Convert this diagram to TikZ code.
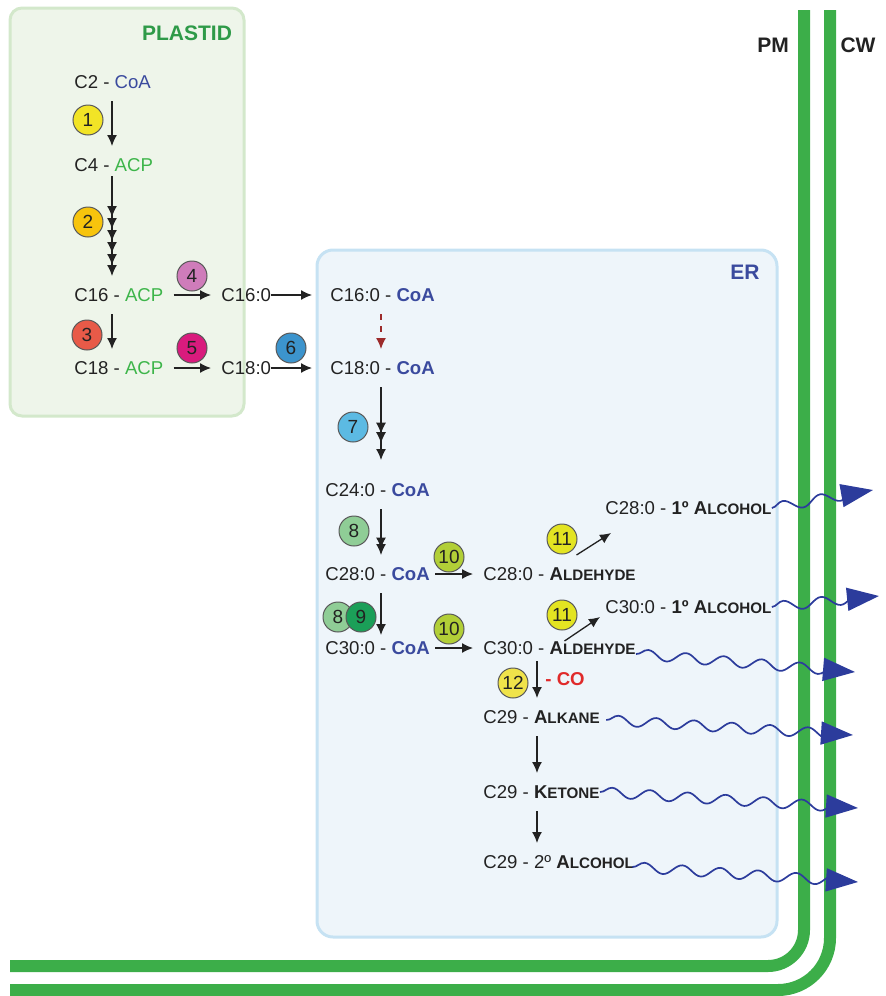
\documentclass[tikz,border=0pt]{standalone}
\usepackage{fontspec}
\setmainfont{Liberation Sans}
\usetikzlibrary{arrows.meta,decorations.pathmorphing,decorations.markings}
\definecolor{ink}{HTML}{222222}
\definecolor{coablue}{HTML}{3A4A9E}
\definecolor{acpgreen}{HTML}{3DB54A}
\definecolor{plastgreen}{HTML}{2E9A48}
\definecolor{plastfill}{HTML}{EEF5EA}
\definecolor{plastedge}{HTML}{D3E8CB}
\definecolor{erfill}{HTML}{EEF5FA}
\definecolor{eredge}{HTML}{C6E2F3}
\definecolor{memgreen}{HTML}{3CAE49}
\definecolor{waveblue}{HTML}{2C3C9C}
\definecolor{dashred}{HTML}{9C2B2B}
\definecolor{cored}{HTML}{E02A2A}
\definecolor{enyellow}{HTML}{F2E426}
\definecolor{enorange}{HTML}{F7C40D}
\definecolor{enred}{HTML}{E85A48}
\definecolor{enmauve}{HTML}{CF7CBA}
\definecolor{enmagenta}{HTML}{D91B7D}
\definecolor{enblue}{HTML}{3C94CD}
\definecolor{ensky}{HTML}{5CBAE3}
\definecolor{enmint}{HTML}{8FCD96}
\definecolor{enjade}{HTML}{1B9F58}
\definecolor{enlime}{HTML}{B2CF37}
\definecolor{enlemon}{HTML}{E3E422}
\definecolor{enpale}{HTML}{F0E34A}
\newcommand\smc[2]{\textbf{#1{\fontsize{7.6}{9}\selectfont#2}}}
\newcommand\coa{\textcolor{coablue}{\textbf{CoA}}}
\begin{document}
\begin{tikzpicture}[x=0.5pt,y=-0.5pt,
  met/.style={anchor=west,inner xsep=5pt,inner ysep=6pt,text height=6.6pt,text depth=0pt,text=ink,font=\fontsize{9.3}{11}\selectfont},
  enz/.style={circle,draw=ink!75,line width=0.5pt,minimum size=15pt,inner sep=0pt,text=ink,font=\fontsize{9.5}{11}\selectfont},
  title/.style={font=\fontsize{10.5}{12}\bfseries,inner sep=0pt},
  arr/.style={draw=ink,line width=0.65pt,-{Latex[length=5.5pt,width=5pt]}},
  midhead/.style={postaction={decorate,decoration={markings,mark=at position #1 with {\arrow{Latex[length=5.5pt,width=5pt]}}}}},
  mem/.style={draw=memgreen,line width=6pt},
  wave/.style={draw=waveblue,line width=0.85pt,decorate,decoration={snake,segment length=19pt,amplitude=2.5pt,post length=3pt},-{Triangle[length=16pt,width=11.5pt]}}]
\useasboundingbox (0,0) rectangle (886,996);
\draw[draw=plastedge,fill=plastfill,line width=1.5pt,rounded corners=6pt] (10,8) rectangle (244,416);
\draw[draw=eredge,fill=erfill,line width=1.5pt,rounded corners=8pt] (317,250) rectangle (777,937);
\draw[mem,rounded corners=18pt] (804,10) -- (804,966) -- (10,966);
\draw[mem,rounded corners=26pt] (830,10) -- (830,990) -- (10,990);
\node[title,text=plastgreen] (plastid) at (187,33) {PLASTID};
\node[title,text=coablue] (er) at (745,272) {ER};
\node[title,text=ink] (pm) at (773,45) {PM};
\node[title,text=ink] (cw) at (858,45) {CW};
\coordinate (pcol) at (112,0);
\coordinate (ecol) at (381,0);
\coordinate (kcol) at (537,0);
\node[met] (c2) at (64,82) {C2 - \textcolor{coablue}{CoA}};
\node[met] (c4) at (64,165) {C4 - \textcolor{acpgreen}{ACP}};
\node[met] (c16a) at (64,295) {C16 - \textcolor{acpgreen}{ACP}};
\node[met] (c18a) at (64,368) {C18 - \textcolor{acpgreen}{ACP}};
\node[met] (fa16) at (211,295) {C16:0};
\node[met] (fa18) at (211,368) {C18:0};
\node[met] (er16) at (320,295) {C16:0 - \coa};
\node[met] (er18) at (320,368) {C18:0 - \coa};
\node[met] (er24) at (315,490) {C24:0 - \coa};
\node[met] (er28) at (315,574) {C28:0 - \coa};
\node[met] (er30) at (315,648) {C30:0 - \coa};
\node[met] (ald28) at (473,574) {C28:0 - \smc{A}{LDEHYDE}};
\node[met] (ald30) at (473,648) {C30:0 - \smc{A}{LDEHYDE}};
\node[met] (alc28) at (595,508) {C28:0 - \textbf{1º} \smc{A}{LCOHOL}};
\node[met] (alc30) at (595,607) {C30:0 - \textbf{1º} \smc{A}{LCOHOL}};
\node[met] (alk) at (473,717) {C29 - \smc{A}{LKANE}};
\node[met] (ket) at (473,792) {C29 - \smc{K}{ETONE}};
\node[met] (alc2) at (473,862) {C29 - 2º \smc{A}{LCOHOL}};
\node[met,text=cored,font=\fontsize{9.3}{11}\bfseries] (co) at (535,679) {- CO};
\node[enz,fill=enyellow] (e1) at (88,120) {1};
\node[enz,fill=enorange] (e2) at (88,222) {2};
\node[enz,fill=enred] (e3) at (87,335) {3};
\node[enz,fill=enmauve] (e4) at (192,276) {4};
\node[enz,fill=enmagenta] (e5) at (192,348) {5};
\node[enz,fill=enblue] (e6) at (291,348) {6};
\node[enz,fill=ensky] (e7) at (353,427) {7};
\node[enz,fill=enmint] (e8) at (354,531) {8};
\node[enz,fill=enmint] (e8b) at (338,617) {8};
\node[enz,fill=enjade] (e9) at (361,617) {9};
\node[enz,fill=enlime] (e10) at (449,557) {10};
\node[enz,fill=enlime] (e10b) at (449,629) {10};
\node[enz,fill=enlemon] (e11) at (562,539) {11};
\node[enz,fill=enlemon] (e11b) at (562,615) {11};
\node[enz,fill=enpale] (e12) at (513,683) {12};
\draw[arr] (c2.south -| pcol) -- (c4.north -| pcol);
\draw[arr,midhead=0.41,midhead=0.53,midhead=0.65,midhead=0.77,midhead=0.89] ([yshift=4pt]c4.south -| pcol) -- (c16a.north -| pcol);
\draw[arr] (c16a.south -| pcol) -- (c18a.north -| pcol);
\draw[arr] (c16a.east) -- (fa16.west);
\draw[arr] (c18a.east) -- (fa18.west);
\draw[arr] ([xshift=-5pt]fa16.east) -- ([xshift=-4pt]er16.west);
\draw[arr] ([xshift=-5pt]fa18.east) -- ([xshift=-4pt]er18.west);
\draw[arr,draw=dashred,dashed] (er16.south -| ecol) -- (er18.north -| ecol);
\draw[arr,midhead=0.64,midhead=0.77] (er18.south -| ecol) -- ([yshift=5.5pt]er24.north -| ecol);
\draw[arr,midhead=0.86] (er24.south -| ecol) -- (er28.north -| ecol);
\draw[arr] (er28.south -| ecol) -- ([yshift=-3pt]er30.north -| ecol);
\draw[arr] ([xshift=-2.5pt]er28.east) -- (ald28.west);
\draw[arr] ([xshift=-2.5pt]er30.east) -- (ald30.west);
\draw[arr] ([xshift=8.5pt]ald28.north) -- ([xshift=8pt,yshift=-3pt]alc28.south west);
\draw[arr] ([xshift=2.5pt,yshift=-6pt]ald30.north) -- ([xshift=2.5pt,yshift=4.5pt]alc30.south west);
\draw[arr] ([yshift=3pt]ald30.south -| kcol) -- (alk.north -| kcol);
\draw[arr] (alk.south -| kcol) -- (ket.north -| kcol);
\draw[arr] (ket.south -| kcol) -- (alc2.north -| kcol);
\coordinate (w1) at (873,490);
\coordinate (w2) at (879,596);
\coordinate (w3) at (855,672);
\coordinate (w4) at (853,735);
\coordinate (w5) at (858,808);
\coordinate (w6) at (858,882);
\draw[wave] ([xshift=-5pt]alc28.east) -- (w1);
\draw[wave] ([xshift=-5pt]alc30.east) -- (w2);
\draw[wave] ([xshift=-5pt,yshift=-3pt]ald30.east) -- (w3);
\draw[wave] ([xshift=-2pt,yshift=-1.5pt]alk.east) -- (w4);
\draw[wave] ([xshift=-5pt]ket.east) -- (w5);
\draw[wave] ([xshift=-6pt,yshift=-2.5pt]alc2.east) -- (w6);
\end{tikzpicture}
\end{document}
